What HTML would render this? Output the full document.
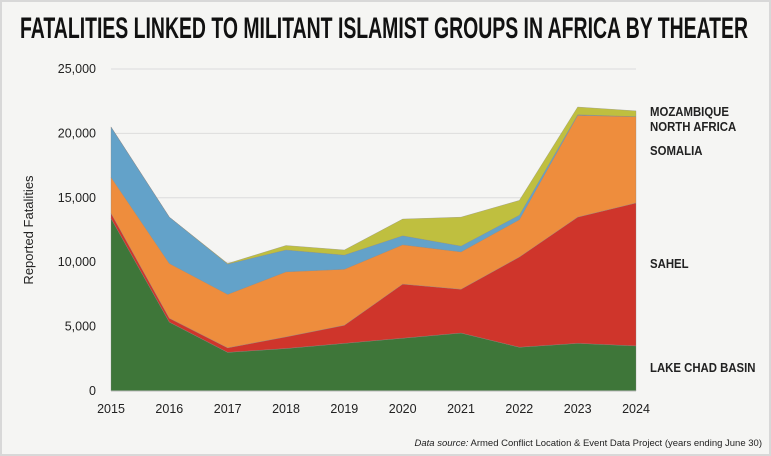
<!DOCTYPE html>
<html><head><meta charset="utf-8"><style>
html,body{margin:0;padding:0;background:#fff}
svg{display:block;font-family:"Liberation Sans",sans-serif}
</style></head><body>
<svg id="chart" width="771" height="456" viewBox="0 0 771 456">
<rect x="1" y="1" width="769" height="454" fill="#f5f5f3" stroke="#d8d8d8" stroke-width="2"/>
<text x="20" y="38" font-size="30" font-weight="bold" fill="#111" textLength="728" lengthAdjust="spacingAndGlyphs">FATALITIES LINKED TO MILITANT ISLAMIST GROUPS IN AFRICA BY THEATER</text>
<g id="grid"></g>
<g id="areas"></g>
<g id="axes"></g>
<text transform="translate(33,230) rotate(-90)" text-anchor="middle" font-size="13" fill="#222">Reported Fatalities</text>
<text x="762" y="446" text-anchor="end" font-size="9.5" fill="#222"><tspan font-style="italic">Data source:</tspan> Armed Conflict Location &amp; Event Data Project (years ending June 30)</text>
<g id="labels" font-size="12.5" font-weight="bold" fill="#222"></g>
</svg>
<script>
const years = [2015,2016,2017,2018,2019,2020,2021,2022,2023,2024];
const lakeChad = [13400,5350,3000,3300,3700,4100,4500,3400,3700,3500];
const sahel = [400,300,350,900,1400,4200,3400,7000,9800,11100];
const somalia = [2800,4250,4150,5050,4350,3050,2900,2900,7900,6700];
const northAfrica = [3900,3600,2350,1700,1100,700,450,350,50,0];
const mozambique = [0,0,50,350,400,1300,2250,1150,600,450];
const yTicks = [0,5000,10000,15000,20000,25000];
const yTickLabels = ["0","5,000","10,000","15,000","20,000","25,000"];
const seriesNames = ["LAKE CHAD BASIN","SAHEL","SOMALIA","NORTH AFRICA","MOZAMBIQUE"];

const NS="http://www.w3.org/2000/svg";
const x = yr => 111 + (yr-2015)*(636-111)/9;
const y = v => 391 - v*(391-69)/25000;
function mk(tag, attrs, parent){const e=document.createElementNS(NS,tag);for(const k in attrs)e.setAttribute(k,attrs[k]);parent.appendChild(e);return e;}
const grid=document.getElementById('grid'), areas=document.getElementById('areas'), axes=document.getElementById('axes'), labels=document.getElementById('labels');

yTicks.forEach((t,i)=>{
  if(t>0){const l=mk('line',{x1:111,x2:636,y1:y(t),y2:y(t),stroke:'#dcdcdc','stroke-width':1},grid);
  
  }
  const tx=mk('text',{x:96,y:y(t)+4,'text-anchor':'end','font-size':12.5,fill:'#222'},axes);
  tx.textContent=yTickLabels[i];
  
  
});
years.forEach(yr=>{
  const tx=mk('text',{x:x(yr),y:413,'text-anchor':'middle','font-size':12.5,fill:'#222'},axes);
  tx.textContent=yr;
  
  
});

const series=[lakeChad,sahel,somalia,northAfrica,mozambique];
const colors=["#3e7639","#cf352b","#ee8d3d","#63a2c9","#bfbf3f"];
const areaNames=["area-lake-chad-basin","area-sahel","area-somalia","area-north-africa","area-mozambique"];
let base=years.map(()=>0);
series.forEach((s,si)=>{
  const top=base.map((b,i)=>b+s[i]);
  let d='';
  years.forEach((yr,i)=>{d+=(i?'L':'M')+x(yr)+','+y(top[i]);});
  for(let i=years.length-1;i>=0;i--) d+='L'+x(years[i])+','+y(base[i]);
  d+='Z';
  const p=mk('path',{d:d,fill:colors[si],stroke:'#888','stroke-width':0.5,'stroke-opacity':0.6},areas);
  
  
  base=top;
});
mk('line',{x1:111,x2:636,y1:391,y2:391,stroke:'#bbb','stroke-width':1},axes);

const labelY=[372,268,155,131,116];
seriesNames.forEach((n,i)=>{
  const t=mk('text',{x:650,y:labelY[i]},labels);
  t.textContent=n;
  
  
  const w=t.getComputedTextLength();
  t.setAttribute('textLength',(w*0.91).toFixed(1));
  t.setAttribute('lengthAdjust','spacingAndGlyphs');
});
</script>
</body></html>
